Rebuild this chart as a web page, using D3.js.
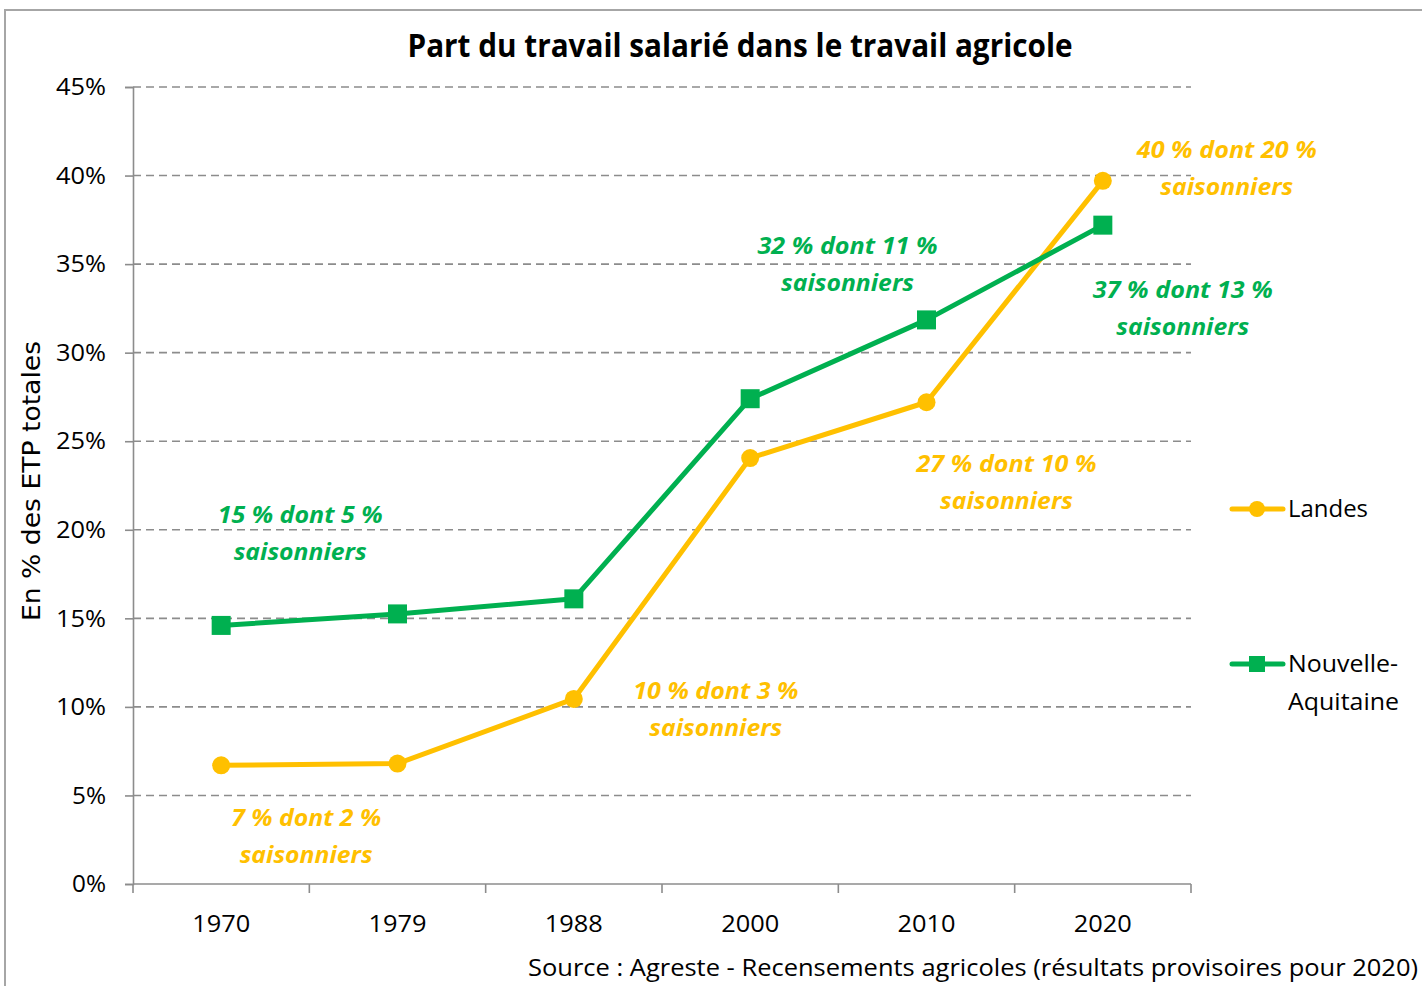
<!DOCTYPE html>
<html>
<head>
<meta charset="utf-8">
<script src="https://cdn.jsdelivr.net/npm/d3@7.9.0/dist/d3.min.js"></script>
<style>
  body { margin: 0; background: #fff; }
  svg { display: block; font-family: "Open Sans", "Noto Sans", sans-serif; }
</style>
</head>
<body>
<svg id="chart" width="1422" height="986"></svg>
<script>
// data
const years = ["1970", "1979", "1988", "2000", "2010", "2020"];
const landes = [6.7, 6.8, 10.45, 24.05, 27.2, 39.7];
const nouvelleAquitaine = [14.6, 15.25, 16.1, 27.4, 31.85, 37.2];
const yTicks = [0, 5, 10, 15, 20, 25, 30, 35, 40, 45];

const yellow = "#FFC000";
const green = "#00B050";

// annotations: [series, year, line1, line2]
const annotations = [
  ["na", "1970", "15 % dont 5 %", "saisonniers"],
  ["na", "2010", "32 % dont 11 %", "saisonniers"],
  ["na", "2020", "37 % dont 13 %", "saisonniers"],
  ["la", "2020", "40 % dont 20 %", "saisonniers"],
  ["la", "2010", "27 % dont 10 %", "saisonniers"],
  ["la", "1988", "10 % dont 3 %", "saisonniers"],
  ["la", "1970", "7 % dont 2 %", "saisonniers"]
];
// label offsets relative to the point (layout only)
const annotOffset = {
  "na1970": [79, -109], "na2010": [-79, -72], "na2020": [80, 66],
  "la2020": [124, -29], "la2010": [80, 63], "la1988": [142, -6],
  "la1970": [85, 54]
};

const svg = d3.select("#chart");

// outer frame
svg.append("rect")
  .attr("x", 5).attr("y", 10)
  .attr("width", 1430).attr("height", 990)
  .attr("fill", "none")
  .attr("stroke", "#a6a6a6")
  .attr("stroke-width", 2);

const x = d3.scaleBand().domain(years).range([133, 1191]).padding(0);
const y = d3.scaleLinear().domain([0, 45]).range([884, 87]);
const cx = d => x(d) + x.bandwidth() / 2;

// gridlines
svg.append("g")
  .selectAll("line")
  .data(yTicks.filter(t => t > 0))
  .enter().append("line")
  .attr("x1", 133).attr("x2", 1191)
  .attr("y1", d => y(d)).attr("y2", d => y(d))
  .attr("stroke", "#8c8c8c")
  .attr("stroke-width", 1.6)
  .attr("stroke-dasharray", "8,5");

// y axis
const yAxis = svg.append("g")
  .attr("transform", "translate(133,0)")
  .call(d3.axisLeft(y).tickValues(yTicks).tickSize(8).tickFormat(d => d + "%"));
yAxis.select(".domain").attr("stroke", "#8c8c8c").attr("stroke-width", 1.6);
yAxis.selectAll(".tick line").attr("stroke", "#8c8c8c").attr("stroke-width", 1.6);
yAxis.selectAll(".tick text")
  .attr("x", -27)
  .attr("font-size", 24)
  .attr("font-family", "'Open Sans', sans-serif")
  .attr("fill", "#000")
  .attr("textLength", d => d < 10 ? 34 : 50)
  .attr("lengthAdjust", "spacingAndGlyphs");

// x axis, ticks at band edges
const xAxis = svg.append("g").attr("transform", "translate(0,884)");
xAxis.append("line")
  .attr("x1", 133).attr("x2", 1191)
  .attr("stroke", "#8c8c8c").attr("stroke-width", 1.6);
xAxis.selectAll(".edge")
  .data(years.concat(["end"]))
  .enter().append("line")
  .attr("class", "edge")
  .attr("x1", (d, i) => i < years.length ? x(d) : x.range()[1])
  .attr("x2", (d, i) => i < years.length ? x(d) : x.range()[1])
  .attr("y1", 0).attr("y2", 9)
  .attr("stroke", "#8c8c8c").attr("stroke-width", 1.6);
xAxis.selectAll(".lab")
  .data(years)
  .enter().append("text")
  .attr("class", "lab")
  .attr("x", d => cx(d))
  .attr("y", 42)
  .attr("text-anchor", "middle")
  .attr("dominant-baseline", "middle")
  .attr("font-size", 24)
  .attr("textLength", 58)
  .attr("lengthAdjust", "spacingAndGlyphs")
  .text(d => d);

// lines
const line = d3.line().x((d, i) => cx(years[i])).y(d => y(d));

svg.append("path")
  .datum(landes)
  .attr("d", line)
  .attr("fill", "none")
  .attr("stroke", yellow)
  .attr("stroke-width", 5)
  .attr("stroke-linejoin", "round");

svg.append("path")
  .datum(nouvelleAquitaine)
  .attr("d", line)
  .attr("fill", "none")
  .attr("stroke", green)
  .attr("stroke-width", 5)
  .attr("stroke-linejoin", "round");

svg.append("g").selectAll("circle")
  .data(landes)
  .enter().append("circle")
  .attr("cx", (d, i) => cx(years[i]))
  .attr("cy", d => y(d))
  .attr("r", 9)
  .attr("fill", yellow);

svg.append("g").selectAll("rect")
  .data(nouvelleAquitaine)
  .enter().append("rect")
  .attr("x", (d, i) => cx(years[i]) - 9.5)
  .attr("y", d => y(d) - 9.5)
  .attr("width", 19).attr("height", 19)
  .attr("fill", green);

// annotations
const annot = svg.append("g")
  .attr("font-weight", "bold")
  .attr("font-style", "italic")
  .attr("font-size", 24)
  .attr("text-anchor", "middle");
annotations.forEach(a => {
  const vals = a[0] === "na" ? nouvelleAquitaine : landes;
  const i = years.indexOf(a[1]);
  const off = annotOffset[a[0] + a[1]];
  const px = cx(a[1]) + off[0];
  const py = y(vals[i]) + off[1];
  const col = a[0] === "na" ? green : yellow;
  annot.append("text")
    .attr("x", px).attr("y", py)
    .attr("dominant-baseline", "middle")
    .attr("fill", col)
    .attr("textLength", 15 * (a[2].length - 2))
    .attr("lengthAdjust", "spacingAndGlyphs")
    .text(a[2]);
  annot.append("text")
    .attr("x", px).attr("y", py + 37)
    .attr("dominant-baseline", "middle")
    .attr("fill", col)
    .attr("textLength", 133)
    .attr("lengthAdjust", "spacingAndGlyphs")
    .text(a[3]);
});

// title
svg.append("text")
  .attr("x", 740).attr("y", 48)
  .attr("text-anchor", "middle")
  .attr("dominant-baseline", "middle")
  .attr("font-size", 32)
  .attr("font-weight", "bold")
  .attr("textLength", 665)
  .attr("lengthAdjust", "spacingAndGlyphs")
  .text("Part du travail salarié dans le travail agricole");

// y axis title
svg.append("text")
  .attr("transform", "translate(33,481) rotate(-90)")
  .attr("text-anchor", "middle")
  .attr("dominant-baseline", "middle")
  .attr("font-size", 24)
  .attr("font-family", "'DejaVu Sans', sans-serif")
  .attr("textLength", 280)
  .attr("lengthAdjust", "spacingAndGlyphs")
  .text("En % des ETP totales");

// legend
const legend = [
  { name: ["Landes"], color: yellow, shape: "circle", y: 509 },
  { name: ["Nouvelle-", "Aquitaine"], color: green, shape: "square", y: 664 }
];
const lg = svg.append("g");
legend.forEach(l => {
  lg.append("line")
    .attr("x1", 1232).attr("x2", 1283)
    .attr("y1", l.y).attr("y2", l.y)
    .attr("stroke", l.color).attr("stroke-width", 5)
    .attr("stroke-linecap", "round");
  if (l.shape === "circle") {
    lg.append("circle").attr("cx", 1257).attr("cy", l.y).attr("r", 8).attr("fill", l.color);
  } else {
    lg.append("rect").attr("x", 1249).attr("y", l.y - 8).attr("width", 16).attr("height", 16).attr("fill", l.color);
  }
  l.name.forEach((t, k) => {
    lg.append("text")
      .attr("x", 1288).attr("y", l.y + 2 + k * 38)
      .attr("dominant-baseline", "middle")
      .attr("font-size", 24)
      .attr("textLength", t === "Landes" ? 80 : (t === "Nouvelle-" ? 110 : 111))
      .attr("lengthAdjust", "spacingAndGlyphs")
      .text(t);
  });
});

// source
svg.append("text")
  .attr("x", 1418).attr("y", 970)
  .attr("text-anchor", "end")
  .attr("dominant-baseline", "middle")
  .attr("font-size", 24)
  .attr("textLength", 890)
  .attr("lengthAdjust", "spacingAndGlyphs")
  .text("Source : Agreste - Recensements agricoles (résultats provisoires pour 2020)");
</script>
</body>
</html>
